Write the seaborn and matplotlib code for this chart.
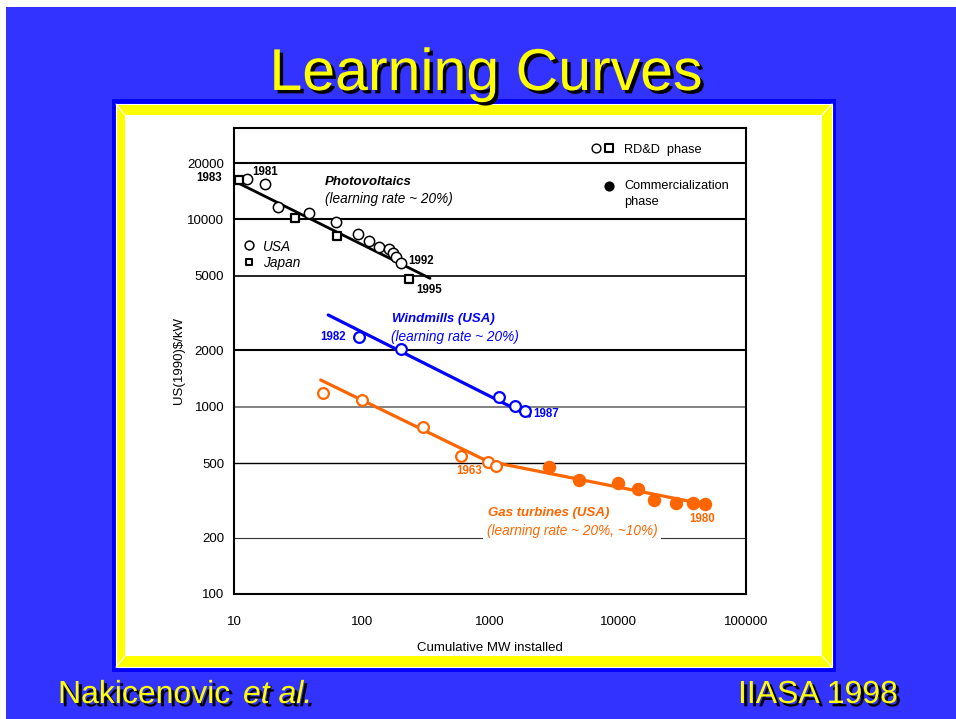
import matplotlib
matplotlib.use("Agg")
import matplotlib.pyplot as plt
import matplotlib.patheffects as pe
from matplotlib.patches import Rectangle
from matplotlib.lines import Line2D
from matplotlib.ticker import FixedLocator, FixedFormatter, NullFormatter
import seaborn as sns

# ---- data: cumulative MW installed vs. unit cost, US(1990)$/kW ----
pv_usa_mw = [12.7, 17.5, 22.2, 38.5, 63.0, 93.6, 113, 135, 162, 176, 183, 201]
pv_usa_cost = [16500, 15400, 11700, 10800, 9690, 8330, 7670, 7100, 6980, 6590, 6320, 5830]
pv_jpn_mw = [10.9, 29.8, 63.8, 234]
pv_jpn_cost = [16300, 10140, 8120, 4830]
pv_fit_mw = [10.5, 340]
pv_fit_cost = [15800, 4850]

wind_mw = [94.8, 203, 1176, 1560, 1867]
wind_cost = [2356, 2033, 1131, 1009, 948]
wind_fit_mw = [54.5, 2030]
wind_fit_cost = [3090, 892]

gas_rdd_mw = [49.9, 100, 300, 590, 959, 1120]
gas_rdd_cost = [1179, 1086, 782, 548, 508, 484]
gas_com_mw = [2906, 4960, 9950, 14330, 19210, 28390, 38330, 48080]
gas_com_cost = [478, 406, 390, 365, 318, 307, 305, 301]
gas_fit_mw = [47.6, 948, 43500]
gas_fit_cost = [1389, 513, 305]

y_ticks = [100, 200, 500, 1000, 2000, 5000, 10000, 20000]
y_tick_labels = ["100", "200", "500", "1000", "2000", "5000", "10000", "20000"]
x_ticks = [10, 100, 1000, 10000, 100000]
x_tick_labels = ["10", "100", "1000", "10000", "100000"]
ref_levels = [20000, 10000, 5000, 2000, 1000, 500, 200]

BG = "#3333FF"
FRAME = "#0000FF"
YEL = "#FFFF00"
ORANGE = "#FF6600"
BLUE = "#0000FF"

sns.set_theme(style="white")
plt.rcParams["font.family"] = ["Liberation Sans", "DejaVu Sans"]

W, H = 956, 719
fig = plt.figure(figsize=(W / 100, H / 100), dpi=100)
fig.patch.set_facecolor("white")


def px_rect(x0, y0, x1, y1, **kw):
    r = Rectangle((x0 / W, 1 - y1 / H), (x1 - x0) / W, (y1 - y0) / H,
                  transform=fig.transFigure, **kw)
    fig.add_artist(r)
    return r


def px_line(x0, y0, x1, y1, **kw):
    ln = Line2D([x0 / W, x1 / W], [1 - y0 / H, 1 - y1 / H],
                transform=fig.transFigure, **kw)
    fig.add_artist(ln)


# slide background and bevelled frame
px_rect(6, 7, W, H, color=BG, zorder=-20, lw=0)
px_rect(112, 99, 836, 672, color=FRAME, zorder=-19, lw=0)
px_rect(116, 104, 832, 667, facecolor=YEL, edgecolor="white", lw=0.8, zorder=-18)
px_rect(125, 115, 822, 656, color="white", zorder=-17, lw=0)
for (a, b, c, d) in [(116, 104, 125, 115), (832, 104, 822, 115),
                     (116, 667, 125, 656), (832, 667, 822, 656)]:
    px_line(a, b, c, d, color="white", lw=0.8, zorder=-16)

shadow = [pe.withSimplePatchShadow(offset=(2.4, -2.4), shadow_rgbFace="black", alpha=1.0)]
fig.text(486 / W, 1 - 90 / H, "Learning Curves", ha="center", va="baseline",
         fontsize=42.5, color=YEL, path_effects=shadow)
fig.text(58 / W, 1 - 703 / H, "Nakicenovic", ha="left", va="baseline",
         fontsize=23, color=YEL, path_effects=shadow)
fig.text(243 / W, 1 - 703 / H, "et al.", ha="left", va="baseline",
         fontsize=23, color=YEL, style="italic", path_effects=shadow)
fig.text(738 / W, 1 - 703 / H, "IIASA 1998", ha="left", va="baseline",
         fontsize=23, color=YEL, path_effects=shadow)

# ---- chart ----
ax = fig.add_axes([234 / W, 1 - 594 / H, 512 / W, 466 / H])
ax.set_xscale("log")
ax.set_yscale("log")
ax.set_xlim(10, 100000)
ax.set_ylim(100, 30800)
ax.set_facecolor("white")

level_style = {
    20000: ("black", 1.5), 10000: ("black", 1.5), 5000: ("black", 1.2),
    2000: ("black", 1.5), 1000: ("#777777", 1.3), 500: ("black", 1.0),
    200: ("#333333", 0.8),
}
for lv in ref_levels:
    c, w = level_style[lv]
    ax.axhline(lv, color=c, lw=w, zorder=1)

# fitted learning curves
sns.lineplot(x=pv_fit_mw, y=pv_fit_cost, ax=ax, color="black", lw=2.0,
             estimator=None, sort=False, zorder=3)
sns.lineplot(x=wind_fit_mw, y=wind_fit_cost, ax=ax, color=BLUE, lw=2.3,
             estimator=None, sort=False, zorder=3)
sns.lineplot(x=gas_fit_mw, y=gas_fit_cost, ax=ax, color=ORANGE, lw=2.3,
             estimator=None, sort=False, zorder=3)

# observations
sns.scatterplot(x=pv_usa_mw, y=pv_usa_cost, ax=ax, marker="o", s=55,
                color="white", edgecolor="black", linewidth=1.1, zorder=5)
sns.scatterplot(x=pv_jpn_mw, y=pv_jpn_cost, ax=ax, marker="s", s=38,
                color="white", edgecolor="black", linewidth=1.6, zorder=5)
sns.scatterplot(x=wind_mw, y=wind_cost, ax=ax, marker="o", s=60,
                color="white", edgecolor=BLUE, linewidth=1.6, zorder=5)
sns.scatterplot(x=gas_rdd_mw, y=gas_rdd_cost, ax=ax, marker="o", s=60,
                color="white", edgecolor=ORANGE, linewidth=1.6, zorder=5)
sns.scatterplot(x=gas_com_mw, y=gas_com_cost, ax=ax, marker="o", s=75,
                color=ORANGE, edgecolor=ORANGE, linewidth=1.0, zorder=5)

# axes styling
for sp in ax.spines.values():
    sp.set_color("black")
    sp.set_linewidth(1.5)
ax.yaxis.set_major_locator(FixedLocator(y_ticks))
ax.yaxis.set_major_formatter(FixedFormatter(y_tick_labels))
ax.yaxis.set_minor_locator(FixedLocator([]))
ax.xaxis.set_major_locator(FixedLocator(x_ticks))
ax.xaxis.set_major_formatter(FixedFormatter(x_tick_labels))
ax.xaxis.set_minor_locator(FixedLocator(x_ticks[1:-1]))
ax.xaxis.set_minor_formatter(NullFormatter())
ax.tick_params(axis="y", which="both", length=0, pad=7, labelsize=9.5, colors="black")
ax.tick_params(axis="x", which="major", length=0, pad=16, labelsize=9.5, colors="black")
ax.tick_params(axis="x", which="minor", direction="out", length=7, width=1.2,
               color="black", bottom=True)
ax.set_xlabel("Cumulative MW installed", fontsize=9.5, color="black", labelpad=10)
ax.set_ylabel("US(1990)$/kW", fontsize=9.5, color="black", labelpad=2)


def tag(text, xy, dx, dy, color="black", ha="left"):
    ax.annotate(text, xy=xy, xytext=(dx, dy), textcoords="offset points",
                ha=ha, va="center", fontsize=8.3, fontweight="bold", color=color,
                annotation_clip=False, zorder=6)


tag("1981", (pv_usa_mw[0], pv_usa_cost[0]), 3.6, 4.8)
tag("1983", (pv_jpn_mw[0], pv_jpn_cost[0]), -12, 1.2, ha="right")
tag("1992", (pv_usa_mw[-1], pv_usa_cost[-1]), 5.3, 1.7)
tag("1995", (pv_jpn_mw[-1], pv_jpn_cost[-1]), 4.8, -8.1)
tag("1982", (wind_mw[0], wind_cost[0]), -9.4, 0, color=BLUE, ha="right")
tag("1987", (wind_mw[-1], wind_cost[-1]), 6, -2.2, color=BLUE)
tag("1963", (gas_rdd_mw[4], gas_rdd_cost[4]), -4, -6.7, color=ORANGE, ha="right")
tag("1980", (gas_com_mw[-1], gas_com_cost[-1]), -2.4, -10.6, color=ORANGE, ha="center")

tb = dict(transform=ax.transAxes, va="center", ha="left", fontsize=9.5)
tx = dict(transform=ax.transAxes, va="center", ha="left", fontsize=9.8)
ax.text(0.1777, 0.884, "Photovoltaics", fontweight="bold", style="italic", color="black", **tb)
ax.text(0.1777, 0.8476, "(learning rate ~ 20%)", style="italic", color="black", **tx)
ax.text(0.3086, 0.590, "Windmills (USA)", fontweight="bold", style="italic", color=BLUE, **tb)
ax.text(0.3066, 0.5515, "(learning rate ~ 20%)", style="italic", color=BLUE, **tx)
ax.text(0.4961, 0.1738, "Gas turbines (USA)", fontweight="bold", style="italic", color=ORANGE, **tb)
ax.text(0.4941, 0.1352, "(learning rate ~ 20%, ~10%)", style="italic", color=ORANGE,
        bbox=dict(facecolor="white", edgecolor="none", pad=2.5), zorder=4, **tx)

# series key (USA / Japan)
ax.scatter([0.0293], [0.7489], transform=ax.transAxes, marker="o", s=40,
           facecolor="white", edgecolor="black", linewidth=1.1, zorder=6, clip_on=False)
ax.scatter([0.0293], [0.7124], transform=ax.transAxes, marker="s", s=24,
           facecolor="white", edgecolor="black", linewidth=1.5, zorder=6, clip_on=False)
ax.text(0.0566, 0.7446, "USA", style="italic", color="black", **tx)
ax.text(0.0566, 0.7103, "Japan", style="italic", color="black", **tx)

# phase key
ax.scatter([0.707], [0.957], transform=ax.transAxes, marker="o", s=40,
           facecolor="white", edgecolor="black", linewidth=1.0, zorder=6)
ax.scatter([0.7324], [0.957], transform=ax.transAxes, marker="s", s=30,
           facecolor="white", edgecolor="black", linewidth=1.5, zorder=6)
ax.scatter([0.7324], [0.8755], transform=ax.transAxes, marker="o", s=40,
           color="black", zorder=6)
kx = dict(transform=ax.transAxes, va="center", ha="left", fontsize=9.2, color="black")
ax.text(0.7617, 0.9528, "RD&D  phase", **kx)
ax.text(0.7617, 0.8755, "Commercialization", **kx)
ax.text(0.7617, 0.8412, "phase", **kx)

fig.savefig("out.png", dpi=100)
